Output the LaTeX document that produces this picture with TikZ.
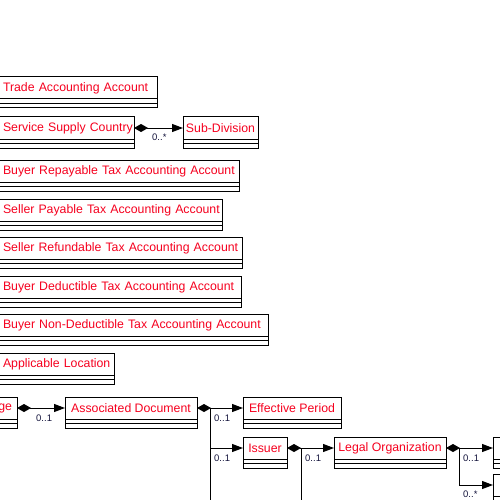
\documentclass[tikz,border=0pt]{standalone}
\usepackage{fontspec}
\setmainfont{Liberation Sans}
\usetikzlibrary{arrows.meta}

\definecolor{classred}{RGB}{245,0,30}
\definecolor{multdark}{RGB}{20,20,60}

\tikzset{
  classhead/.style = {draw, line width=1pt, outer sep=0pt, inner xsep=0pt,
    inner ysep=0pt, minimum height=22pt, anchor=north west, text=classred,
    font=\fontsize{12.3}{14}\selectfont},
  leftcol/.style = {text width=\boxtw, align=left},
  comp/.style   = {draw, line width=1pt,
    {Diamond[length=14pt,width=8pt]}-{Triangle[length=11pt,width=8pt]}},
  branch/.style = {draw, line width=1pt, -{Triangle[length=11pt,width=8pt]}},
  trunk/.style  = {draw, line width=1pt},
  mult/.style   = {anchor=north west, inner sep=0pt, text=multdark,
    font=\fontsize{9.5}{10}\selectfont}
}

% class box: header with the name, two empty compartments below
\newcommand{\classbox}[5][]{%
  \pgfmathsetlengthmacro{\boxtw}{#4-14pt}%
  \node [classhead, minimum width=#4, #1] (#2) at (#3) {\mbox{#5}};
  \draw [line width=1pt] (#2.south west) rectangle ([yshift=-4.5pt]#2.south east);
  \draw [line width=1pt] ([yshift=-4.5pt]#2.south west) rectangle ([yshift=-9pt]#2.south east);
}

\begin{document}
\begin{tikzpicture}[x=1pt, y=-1pt]
  \useasboundingbox (0,0) rectangle (500,500);
  \coordinate (offbottom) at (0,530);

  \classbox[leftcol]{trade}{-4,77}{161pt}{Trade Accounting Account}
  \classbox[leftcol]{supply}{-4,117}{138pt}{Service Supply Country}
  \classbox{subdiv}{183,117}{75pt}{Sub-Division}
  \classbox[leftcol]{repay}{-4,160}{243pt}{Buyer Repayable Tax Accounting Account}
  \classbox[leftcol]{sellpay}{-4,199}{226pt}{Seller Payable Tax Accounting Account}
  \classbox[leftcol]{sellref}{-4,237}{246pt}{Seller Refundable Tax Accounting Account}
  \classbox[leftcol]{deduct}{-4,276}{245pt}{Buyer Deductible Tax Accounting Account}
  \classbox[leftcol]{nondeduct}{-4,314}{272pt}{Buyer Non-Deductible Tax Accounting Account}
  \classbox[leftcol]{location}{-4,353}{118pt}{Applicable Location}

  \classbox[text width=77pt, align=right]{ge}{-70,397}{87pt}{ge}
  \classbox{assoc}{65,397}{132pt}{Associated Document}
  \classbox{effective}{243,397}{98pt}{Effective Period}
  \classbox{issuer}{243,437}{44pt}{Issuer}
  \classbox{legal}{334,437}{112pt}{Legal Organization}
  \classbox{right1}{493,437}{80pt}{}
  \classbox{right2}{493,474}{80pt}{}

  % associations
  \draw [comp] (supply.east) -- (subdiv.west);
  \coordinate (s1) at ([xshift=13pt]supply.east);
  \node [mult] (m1) at ([xshift=5pt, yshift=-6pt]s1) {0..*};

  \draw [comp] (ge.east) -- (assoc.west);
  \coordinate (g1) at ([xshift=13pt]ge.east);
  \node [mult] (m2) at ([xshift=6pt, yshift=-7pt]g1) {0..1};

  \draw [comp] (assoc.east) -- (effective.west);
  \coordinate (a1) at ([xshift=13pt]assoc.east);
  \coordinate (a2) at (a1 |- issuer.west);
  \draw [branch] (a1) |- (issuer.west);
  \draw [trunk] (a2) -- (a2 |- offbottom);
  \node [mult] (m3) at ([xshift=4pt, yshift=-7pt]a1) {0..1};
  \node [mult] (m4) at ([xshift=4pt, yshift=-7pt]a2) {0..1};

  \draw [comp] (issuer.east) -- (legal.west);
  \coordinate (i1) at ([xshift=14pt]issuer.east);
  \draw [trunk] (i1) -- (i1 |- offbottom);
  \node [mult] (m5) at ([xshift=4pt, yshift=-7pt]i1) {0..1};

  \draw [comp] (legal.east) -- (right1.west);
  \coordinate (l1) at ([xshift=13pt]legal.east);
  \coordinate (l2) at (l1 |- right2.west);
  \draw [branch] (l1) |- (right2.west);
  \node [mult] (m6) at ([xshift=4pt, yshift=-7pt]l1) {0..1};
  \node [mult] (m7) at ([xshift=4pt, yshift=-6pt]l2) {0..*};
\end{tikzpicture}
\end{document}
